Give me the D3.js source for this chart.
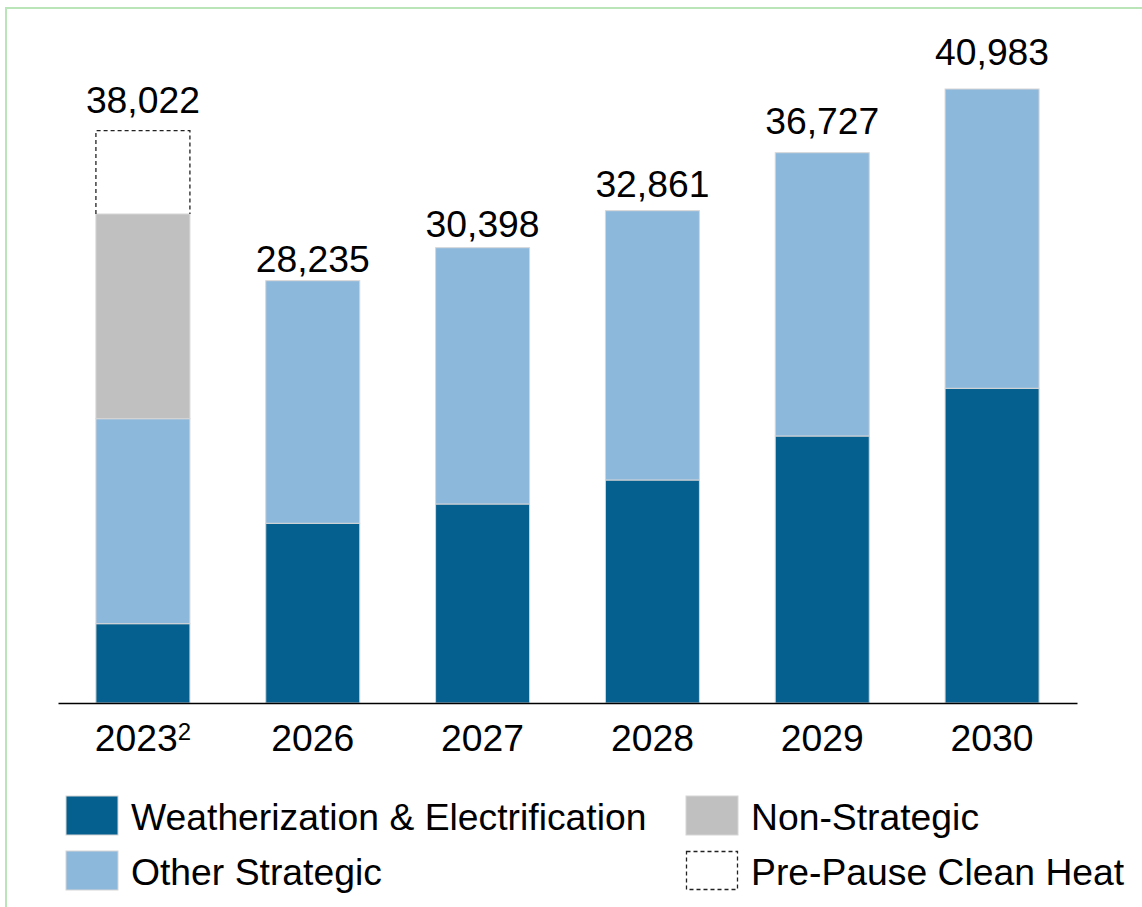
<!DOCTYPE html>
<html>
<head>
<meta charset="utf-8">
<script src="https://cdn.jsdelivr.net/npm/d3@7"></script>
<style>
  html, body { margin: 0; padding: 0; background: #fff; }
  svg { display: block; font-family: "Liberation Sans", Arial, sans-serif; }
</style>
</head>
<body>
<svg id="chart" width="1142" height="907"></svg>
<script>
// ---- data ----
const years = ["2023", "2026", "2027", "2028", "2029", "2030"];
const yearNotes = ["2", "", "", "", "", ""];
const weatherization = [5293, 11994, 13282, 14884, 17820, 21004];
const otherStrategic = [13682, 16192, 17106, 17974, 18908, 19976];
const nonStrategic = [13662, 0, 0, 0, 0, 0];
const prePauseCleanHeat = [5560, 0, 0, 0, 0, 0];
const totals = [38022, 28235, 30398, 32861, 36727, 40983];

const seriesKeys = ["we", "other", "non", "pre"];
const seriesNames = {
  we: "Weatherization & Electrification",
  other: "Other Strategic",
  non: "Non-Strategic",
  pre: "Pre-Pause Clean Heat"
};
const colors = { we: "#06608f", other: "#8cb8dc", non: "#c0c0c0", pre: "none" };
const FS = 37.3;

const rows = years.map((y, i) => ({
  year: y, note: yearNotes[i],
  we: weatherization[i], other: otherStrategic[i],
  non: nonStrategic[i], pre: prePauseCleanHeat[i], total: totals[i]
}));

const svg = d3.select("#chart");

// frame
svg.append("path")
  .attr("d", "M6,907 L6,8 L1142,8")
  .attr("fill", "none").attr("stroke", "#b9e5b9").attr("stroke-width", 2);

const x = d3.scaleBand().domain(years).range([58, 1077])
  .paddingInner(0.4465).paddingOuter(0.22325);
const y = d3.scaleLinear().domain([0, 41000]).range([703, 703 - 41000 * 0.014983]);
const yLabel = d3.scaleLinear().domain([0, 41000]).range([729.5, 729.5 - 41000 * 0.016215]);

const stacked = d3.stack().keys(seriesKeys)(rows);

const g = svg.append("g");
stacked.forEach(layer => {
  const key = layer.key;
  g.selectAll(null)
    .data(layer.filter(d => d[1] - d[0] > 0))
    .join("rect")
    .attr("x", d => x(d.data.year))
    .attr("width", x.bandwidth())
    .attr("y", d => y(d[1]))
    .attr("height", d => y(d[0]) - y(d[1]))
    .attr("fill", colors[key])
    .attr("stroke", key === "pre" ? null : "#d6d6d6")
    .attr("stroke-width", 1);
  if (key === "pre") {
    g.selectAll(null)
      .data(layer.filter(d => d[1] - d[0] > 0))
      .join("path")
      .attr("d", d => {
        const x0 = x(d.data.year), x1 = x0 + x.bandwidth();
        const yb = y(d[0]), yt = y(d[1]);
        return `M${x0},${yb} L${x0},${yt} L${x1},${yt} L${x1},${yb}`;
      })
      .attr("fill", "none")
      .attr("stroke", "#222")
      .attr("stroke-width", 1.3)
      .attr("stroke-dasharray", "4,3");
  }
});

// value labels
g.selectAll(".val")
  .data(rows)
  .join("text")
  .attr("class", "val")
  .attr("x", d => x(d.year) + x.bandwidth() / 2)
  .attr("y", d => yLabel(d.total))
  .attr("text-anchor", "middle")
  .attr("font-size", FS)
  .attr("fill", "#000")
  .text(d => d3.format(",")(d.total));

// x axis
const axis = svg.append("g")
  .attr("transform", "translate(0,703)")
  .call(d3.axisBottom(x).tickSize(0).tickSizeOuter(0).tickFormat(""));
axis.select(".domain").attr("stroke", "#000").attr("stroke-width", 1.6);
axis.selectAll(".tick text").remove();
axis.selectAll(".tick").each(function(d, i) {
  const t = d3.select(this).append("text")
    .attr("y", 48)
    .attr("text-anchor", "middle")
    .attr("fill", "#000")
    .attr("font-size", FS)
    .attr("font-family", "Liberation Sans, Arial, sans-serif");
  t.append("tspan").text(d);
  if (yearNotes[i]) {
    t.append("tspan").attr("dy", -11).attr("font-size", 24).text(yearNotes[i]);
  }
});

// legend
const legendItems = [
  { key: "we", col: 0, row: 0 },
  { key: "other", col: 0, row: 1 },
  { key: "non", col: 1, row: 0 },
  { key: "pre", col: 1, row: 1 }
];
const colX = [66, 686];
const rowY = [796, 851];
const lg = svg.append("g");
legendItems.forEach(it => {
  const sx = colX[it.col], sy = rowY[it.row];
  if (it.key === "pre") {
    lg.append("rect").attr("x", sx + 0.5).attr("y", sy + 0.5)
      .attr("width", 51).attr("height", 38)
      .attr("fill", "#fff").attr("stroke", "#222")
      .attr("stroke-width", 1.3).attr("stroke-dasharray", "4,3");
  } else {
    lg.append("rect").attr("x", sx).attr("y", sy)
      .attr("width", 52).attr("height", 39)
      .attr("fill", colors[it.key]).attr("stroke", "#d6d6d6").attr("stroke-width", 1);
  }
  lg.append("text")
    .attr("x", sx + 65).attr("y", sy + 34)
    .attr("font-size", FS).attr("fill", "#000")
    .text(seriesNames[it.key]);
});
</script>
</body>
</html>
